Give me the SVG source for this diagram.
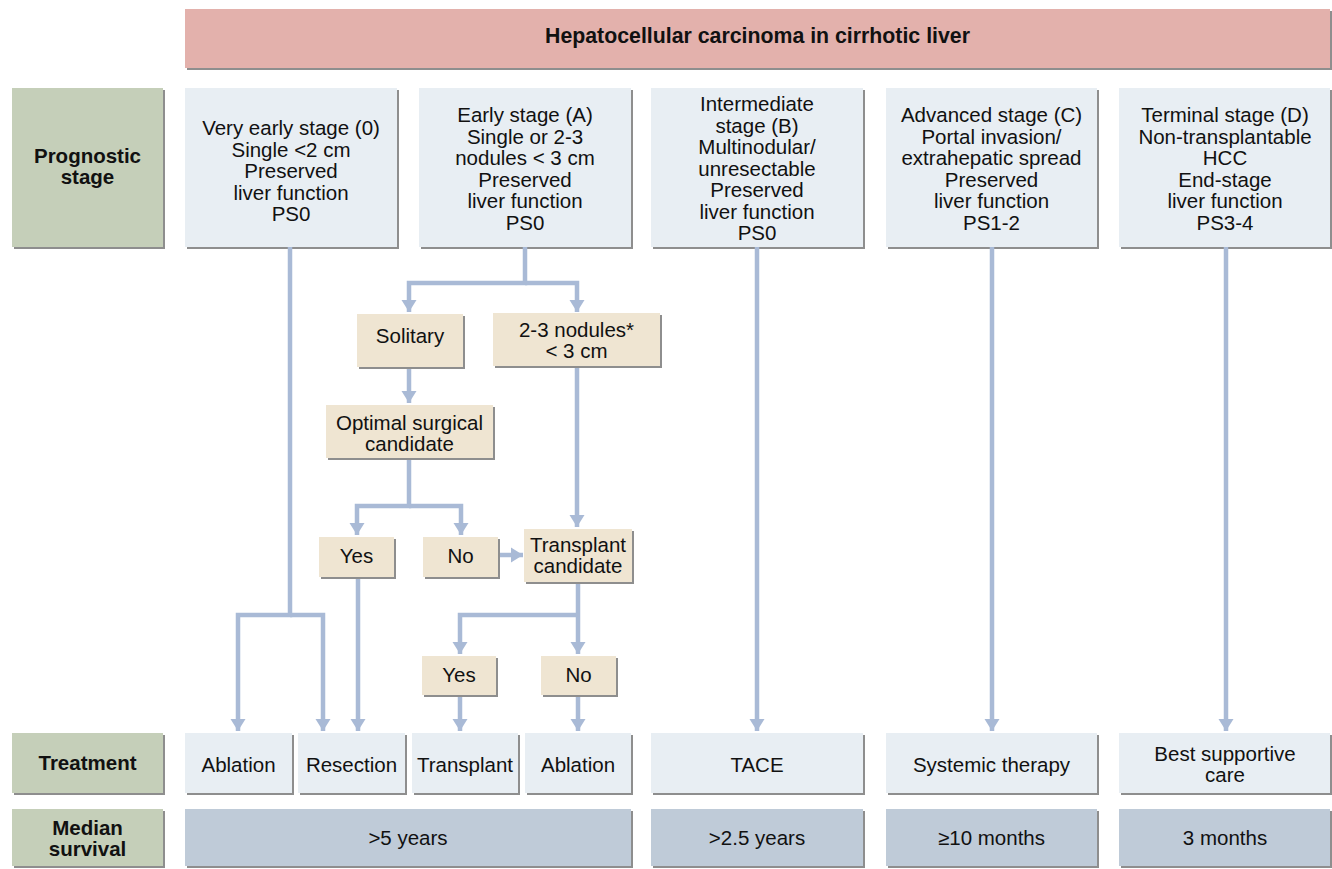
<svg xmlns="http://www.w3.org/2000/svg" width="1332" height="869" viewBox="0 0 1332 869">
<style>
text{font-family:"Liberation Sans",Arial,sans-serif;font-size:20.5px;fill:#111;text-anchor:middle}
.b{font-weight:bold}
.h{font-size:21.3px}
.sh{fill:#8e8e8e}
.hdr{fill:#e3b1ac}
.lab{fill:#c5cfb9}
.stg{fill:#e8eef3}
.dec{fill:#efe5d2}
.sur{fill:#bfcbd8}
.con{fill:none;stroke:#a9bad6;stroke-width:4.5;marker-end:url(#ah)}
</style>
<defs>
<marker id="ah" markerUnits="userSpaceOnUse" markerWidth="16" markerHeight="16" refX="12" refY="8" orient="auto">
<path d="M0,0.5 L12,8 L0,15.5 Z" fill="#a9bad6"/>
</marker>
</defs>
<rect width="1332" height="869" fill="#ffffff"/>

<g id="header">
<rect class="sh" x="187" y="11" width="1145" height="59"/>
<rect class="hdr" x="185" y="9" width="1145" height="59"/>
<text class="b h" x="757.5" y="43">Hepatocellular carcinoma in cirrhotic liver</text>
</g>

<g id="label-prognostic">
<rect class="sh" x="14" y="90" width="151" height="159"/>
<rect class="lab" x="12" y="88" width="151" height="159"/>
<text class="b" x="87.5" y="163">Prognostic</text>
<text class="b" x="87.5" y="184">stage</text>
</g>
<g id="label-treatment">
<rect class="sh" x="14" y="735" width="151" height="60"/>
<rect class="lab" x="12" y="733" width="151" height="60"/>
<text class="b" x="87.5" y="770">Treatment</text>
</g>
<g id="label-survival">
<rect class="sh" x="14" y="811" width="151" height="57"/>
<rect class="lab" x="12" y="809" width="151" height="57"/>
<text class="b" x="87.5" y="835">Median</text>
<text class="b" x="87.5" y="856">survival</text>
</g>

<g id="stage0">
<rect class="sh" x="187" y="90" width="212" height="159"/>
<rect class="stg" x="185" y="88" width="212" height="159"/>
<text x="291" y="135">Very early stage (0)</text>
<text x="291" y="156.5">Single &lt;2 cm</text>
<text x="291" y="178">Preserved</text>
<text x="291" y="199.5">liver function</text>
<text x="291" y="221">PS0</text>
</g>
<g id="stageA">
<rect class="sh" x="421" y="90" width="212" height="159"/>
<rect class="stg" x="419" y="88" width="212" height="159"/>
<text x="525" y="122">Early stage (A)</text>
<text x="525" y="143.5">Single or 2-3</text>
<text x="525" y="165">nodules &lt; 3 cm</text>
<text x="525" y="186.5">Preserved</text>
<text x="525" y="208">liver function</text>
<text x="525" y="229.5">PS0</text>
</g>
<g id="stageB">
<rect class="sh" x="653" y="90" width="212" height="159"/>
<rect class="stg" x="651" y="88" width="212" height="159"/>
<text x="757" y="111">Intermediate</text>
<text x="757" y="132.5">stage (B)</text>
<text x="757" y="154">Multinodular/</text>
<text x="757" y="175.5">unresectable</text>
<text x="757" y="197">Preserved</text>
<text x="757" y="218.5">liver function</text>
<text x="757" y="240">PS0</text>
</g>
<g id="stageC">
<rect class="sh" x="888" y="90" width="211" height="159"/>
<rect class="stg" x="886" y="88" width="211" height="159"/>
<text x="991.5" y="122">Advanced stage (C)</text>
<text x="991.5" y="143.5">Portal invasion/</text>
<text x="991.5" y="165">extrahepatic spread</text>
<text x="991.5" y="186.5">Preserved</text>
<text x="991.5" y="208">liver function</text>
<text x="991.5" y="229.5">PS1-2</text>
</g>
<g id="stageD">
<rect class="sh" x="1121" y="90" width="211" height="159"/>
<rect class="stg" x="1119" y="88" width="211" height="159"/>
<text x="1225" y="122">Terminal stage (D)</text>
<text x="1225" y="143.5">Non-transplantable</text>
<text x="1225" y="165">HCC</text>
<text x="1225" y="186.5">End-stage</text>
<text x="1225" y="208">liver function</text>
<text x="1225" y="229.5">PS3-4</text>
</g>

<g id="connectors">
<path class="con" d="M290 247 V615 H238 V731"/>
<path class="con" d="M290 615 H323 V731"/>
<path class="con" d="M525 247 V283 H409 V312"/>
<path class="con" d="M525 283 H577 V312"/>
<path class="con" d="M409 367 V403"/>
<path class="con" d="M409 458 V506 H357 V535"/>
<path class="con" d="M409 506 H461 V535"/>
<path class="con" d="M577 366 V527"/>
<path class="con" d="M498 555 H523"/>
<path class="con" d="M578 582 V654"/>
<path class="con" d="M578 615 H460 V654"/>
<path class="con" d="M358 577 V731"/>
<path class="con" d="M460 695 V731"/>
<path class="con" d="M578 695 V731"/>
<path class="con" d="M757 247 V731"/>
<path class="con" d="M992 247 V731"/>
<path class="con" d="M1226 247 V731"/>
</g>

<g id="solitary">
<rect class="sh" x="359" y="316" width="106" height="53"/>
<rect class="dec" x="357" y="314" width="106" height="53"/>
<text x="410" y="343">Solitary</text>
</g>
<g id="nodules">
<rect class="sh" x="495" y="315" width="167" height="53"/>
<rect class="dec" x="493" y="313" width="167" height="53"/>
<text x="576.5" y="337">2-3 nodules*</text>
<text x="576.5" y="358">&lt; 3 cm</text>
</g>
<g id="optimal">
<rect class="sh" x="328" y="407" width="167" height="53"/>
<rect class="dec" x="326" y="405" width="167" height="53"/>
<text x="409.5" y="430">Optimal surgical</text>
<text x="409.5" y="450.5">candidate</text>
</g>
<g id="yes1">
<rect class="sh" x="321" y="539" width="75" height="40"/>
<rect class="dec" x="319" y="537" width="75" height="40"/>
<text x="356.5" y="563">Yes</text>
</g>
<g id="no1">
<rect class="sh" x="425" y="539" width="75" height="40"/>
<rect class="dec" x="423" y="537" width="75" height="40"/>
<text x="460.5" y="563">No</text>
</g>
<g id="transplant-candidate">
<rect class="sh" x="526" y="531" width="108" height="53"/>
<rect class="dec" x="524" y="529" width="108" height="53"/>
<text x="578" y="552">Transplant</text>
<text x="578" y="572.5">candidate</text>
</g>
<g id="yes2">
<rect class="sh" x="424" y="658" width="74" height="39"/>
<rect class="dec" x="422" y="656" width="74" height="39"/>
<text x="459" y="682">Yes</text>
</g>
<g id="no2">
<rect class="sh" x="543" y="658" width="75" height="39"/>
<rect class="dec" x="541" y="656" width="75" height="39"/>
<text x="578.5" y="682">No</text>
</g>

<g id="t-ablation1">
<rect class="sh" x="187" y="735" width="107" height="60"/>
<rect class="stg" x="185" y="733" width="107" height="60"/>
<text x="238.5" y="772">Ablation</text>
</g>
<g id="t-resection">
<rect class="sh" x="300" y="735" width="107" height="60"/>
<rect class="stg" x="298" y="733" width="107" height="60"/>
<text x="351.5" y="772">Resection</text>
</g>
<g id="t-transplant">
<rect class="sh" x="414" y="735" width="106" height="60"/>
<rect class="stg" x="412" y="733" width="106" height="60"/>
<text x="465" y="772">Transplant</text>
</g>
<g id="t-ablation2">
<rect class="sh" x="527" y="735" width="106" height="60"/>
<rect class="stg" x="525" y="733" width="106" height="60"/>
<text x="578" y="772">Ablation</text>
</g>
<g id="t-tace">
<rect class="sh" x="653" y="735" width="212" height="60"/>
<rect class="stg" x="651" y="733" width="212" height="60"/>
<text x="757" y="772">TACE</text>
</g>
<g id="t-systemic">
<rect class="sh" x="888" y="735" width="211" height="60"/>
<rect class="stg" x="886" y="733" width="211" height="60"/>
<text x="991.5" y="772">Systemic therapy</text>
</g>
<g id="t-bsc">
<rect class="sh" x="1121" y="735" width="211" height="60"/>
<rect class="stg" x="1119" y="733" width="211" height="60"/>
<text x="1225" y="761">Best supportive</text>
<text x="1225" y="782">care</text>
</g>

<g id="s-5y">
<rect class="sh" x="187" y="811" width="446" height="57"/>
<rect class="sur" x="185" y="809" width="446" height="57"/>
<text x="408" y="845">&gt;5 years</text>
</g>
<g id="s-25y">
<rect class="sh" x="653" y="811" width="212" height="57"/>
<rect class="sur" x="651" y="809" width="212" height="57"/>
<text x="757" y="845">&gt;2.5 years</text>
</g>
<g id="s-10m">
<rect class="sh" x="888" y="811" width="211" height="57"/>
<rect class="sur" x="886" y="809" width="211" height="57"/>
<text x="991.5" y="845">≥10 months</text>
</g>
<g id="s-3m">
<rect class="sh" x="1121" y="811" width="211" height="57"/>
<rect class="sur" x="1119" y="809" width="211" height="57"/>
<text x="1225" y="845">3 months</text>
</g>
</svg>
